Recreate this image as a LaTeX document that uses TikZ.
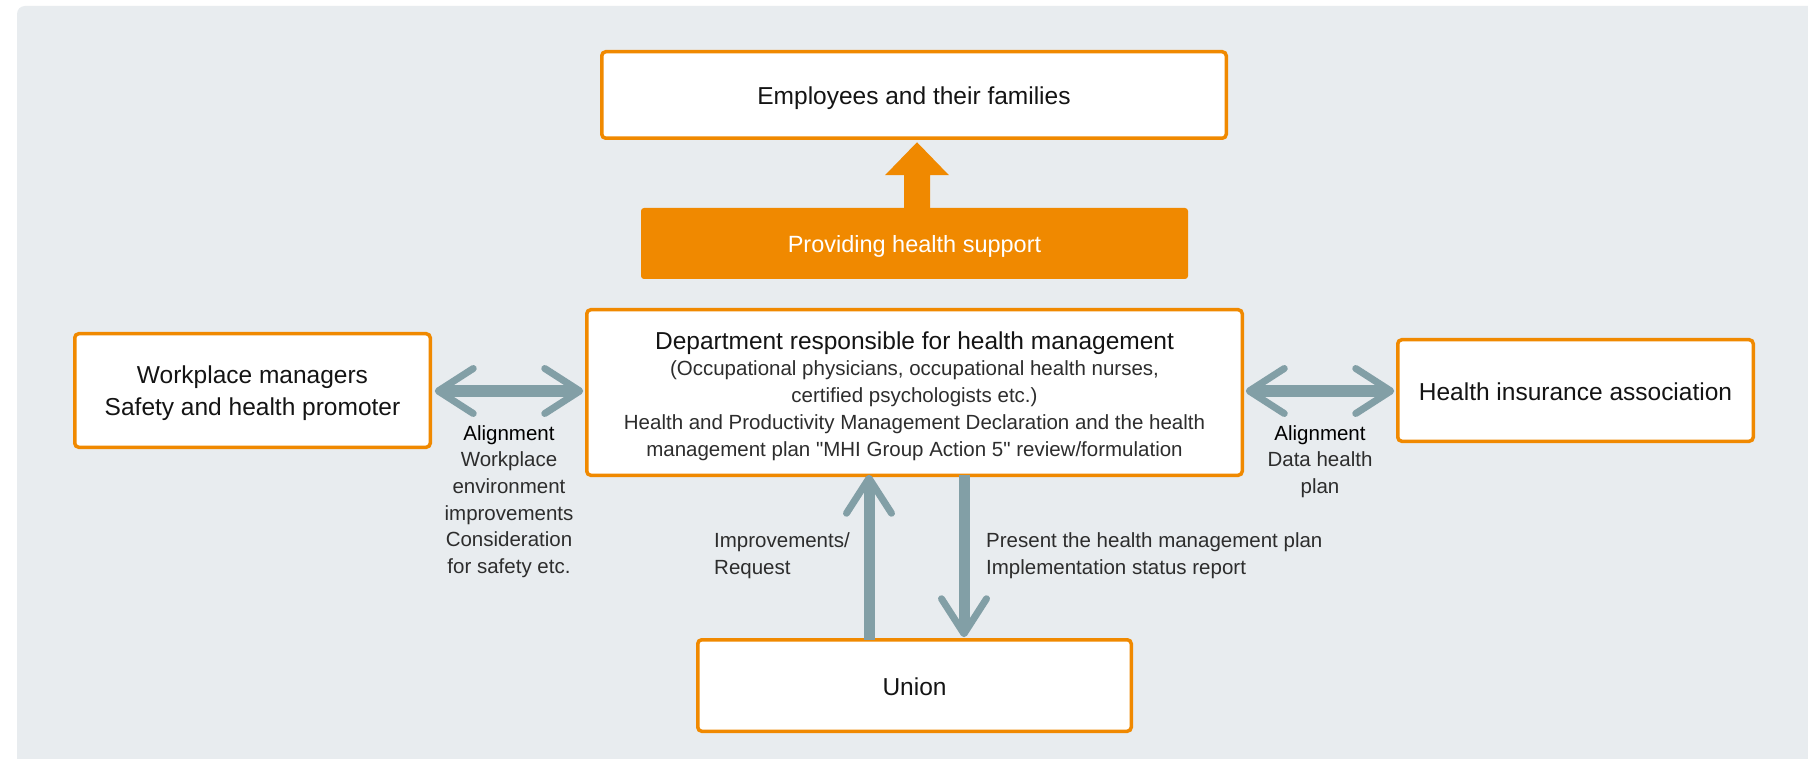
\documentclass[tikz,border=0pt]{standalone}
\usepackage{fontspec}
\setmainfont{Liberation Sans}[Ligatures=TeXOff]
\definecolor{orng}{RGB}{240,137,0}
\definecolor{bgc}{RGB}{232,236,239}
\definecolor{arr}{RGB}{130,159,166}
\definecolor{txt}{RGB}{45,45,45}
\definecolor{ttl}{RGB}{20,20,20}
\begin{document}
\begin{tikzpicture}[x=1pt,y=-1pt,
  box/.style={draw=orng, line width=3.5pt, fill=white, rounded corners=4pt,
              inner sep=0pt, outer sep=0pt, text=ttl, align=center},
  ttlfont/.style={font=\fontsize{24.5}{32}\selectfont},
  oneline/.style={text height=21pt, text depth=2pt},
  lbl/.style={font=\fontsize{20.5}{26.6}\selectfont, text=txt, inner sep=0pt},
  shaft/.style={draw=arr, line width=11pt},
  chevst/.style={draw=arr, line width=7pt, line cap=round, line join=round},
  chev/.pic={\draw[chevst] (-35,-22.5) -- (0,0) -- (-35,22.5);}
]
\useasboundingbox (0,0) rectangle (1808,759);
\fill[white] (0,0) rectangle (1808,759);
% background panel
\fill[bgc] (1808,759) -- (17,759) -- (17,14) arc[start angle=180, end angle=270, radius=8] -- (1808,6) -- cycle;

% boxes
\node[box, ttlfont, oneline, minimum width=624.5pt, minimum height=86.5pt] (top) at (914,95) {Employees and their families};
\node[fill=orng, rounded corners=3pt, minimum width=547pt, minimum height=71pt, inner sep=0pt, outer sep=0pt,
      text=white, font=\fontsize{23.5}{28}\selectfont, text height=20pt, text depth=2pt] (bar) at (914.5,243.5) {Providing health support};
\node[box, minimum width=655.5pt, minimum height=165.5pt] (dept) at (914.5,392.5) {};
\node[inner sep=0pt, align=center, text=ttl, font=\fontsize{20.5}{27}\selectfont] (depttxt) at (914.5,396)
  {{\fontsize{24.5}{27}\selectfont Department responsible for health management}\\[-1pt]
   {\color{txt}(Occupational physicians, occupational health nurses,}\\
   {\color{txt}certified psychologists etc.)}\\
   {\color{txt}Health and Productivity Management Declaration and the health}\\
   {\color{txt}management plan "MHI Group Action 5" review/formulation}};
\node[box, ttlfont, minimum width=355.5pt, minimum height=113.5pt] (left) at (252.5,390.5) {};
\node[inner sep=0pt, align=center, text=ttl, ttlfont] (lefttxt) at (252.5,393.5)
  {Workplace managers\\Safety and health promoter};
\node[box, ttlfont, oneline, minimum width=355.5pt, minimum height=101.5pt] (right) at (1575.5,390.5)
  {Health insurance association};
\node[box, ttlfont, oneline, minimum width=433.5pt, minimum height=91.5pt] (union) at (914.5,685.5) {Union};

% big orange arrow
\coordinate (oB) at ([xshift=2.5pt,yshift=-1pt]bar.north);
\coordinate (oT) at ([yshift=-4pt]oB |- top.south);
\fill[orng] ([shift={(-13,0)}]oB) -- ([shift={(-13,33)}]oT) -- ([shift={(-32,33)}]oT) -- (oT)
  -- ([shift={(32,33)}]oT) -- ([shift={(13,33)}]oT) -- ([shift={(13,0)}]oB) -- cycle;

% left double arrow
\coordinate (lA) at ([xshift=8pt,yshift=-0.5pt]left.east);
\coordinate (lB) at ([xshift=-7pt]lA -| dept.west);
\draw[shaft, shorten <=6pt, shorten >=6pt] (lA) -- (lB);
\pic[rotate=180] at (lA) {chev};
\pic at (lB) {chev};

% right double arrow
\coordinate (rA) at ([xshift=7pt]lA -| dept.east);
\coordinate (rB) at ([xshift=-7pt]lA -| right.west);
\draw[shaft, shorten <=6pt, shorten >=6pt] (rA) -- (rB);
\pic[rotate=180] at (rA) {chev};
\pic at (rB) {chev};

% up arrow (union -> dept)
\coordinate (uB) at ([xshift=-45.5pt]union.north);
\coordinate (uT) at ([yshift=-3pt]uB |- dept.south);
\draw[shaft, shorten >=6pt] (uB) -- (uT);
\pic[rotate=90] at (uT) {chev};

% down arrow (dept -> union)
\coordinate (dT) at ([xshift=49.5pt]dept.south);
\coordinate (dB) at ([yshift=6pt]dT |- union.north);
\draw[shaft, shorten >=6pt] (dT) -- (dB);
\pic[rotate=-90] at (dB) {chev};

% labels
\node[lbl, align=center] (lal) at (509,501.5)
  {{\color{black}Alignment}\\Workplace\\environment\\improvements\\Consideration\\for safety etc.};
\node[lbl, align=center] (ral) at (1320,461.5)
  {{\color{black}Alignment}\\Data health\\plan};
\node[lbl, align=left, anchor=west] (imp) at (714,555.5) {Improvements/\\Request};
\node[lbl, align=left, anchor=west] (pres) at (986,555.5)
  {Present the health management plan\\Implementation status report};
\end{tikzpicture}
\end{document}
